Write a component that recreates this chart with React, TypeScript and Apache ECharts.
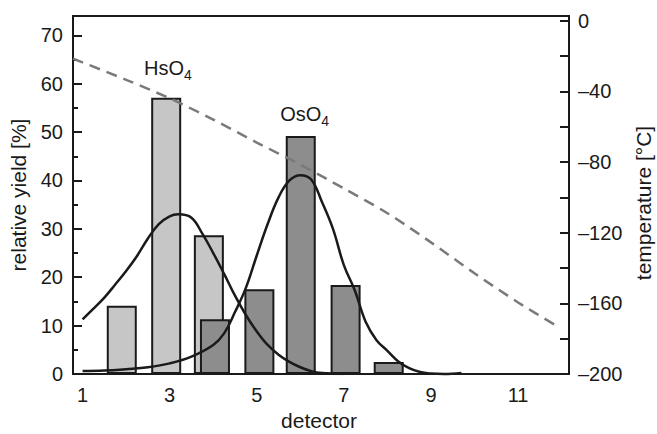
import React, { useEffect, useRef } from "react";
import * as echarts from "echarts";

// Bars (detector position, relative yield %)
const hsDetectors = [1.9, 2.92, 3.9];
const hsYields = [14.1, 57.1, 28.7];
const osDetectors = [4.04, 5.06, 6.01, 7.04, 8.03];
const osYields = [11.3, 17.5, 49.2, 18.4, 2.5];

// Fit curves
const hsCurveX = [1.0, 1.25, 1.5, 1.75, 2.0, 2.25, 2.5, 2.75, 3.0, 3.2, 3.5, 3.75, 4.0, 4.25, 4.5, 4.75, 5.0, 5.25, 5.5, 5.75, 6.0, 6.25, 6.5, 7.0];
const hsCurveY = [11.3, 13.5, 15.8, 18.5, 21.3, 24.4, 28.0, 31.0, 32.6, 33.0, 32.3, 29.0, 25.0, 20.7, 16.2, 12.2, 8.8, 6.0, 4.0, 2.5, 1.4, 0.6, 0.2, 0];
const osCurveX = [1.0, 1.5, 2.0, 2.5, 3.0, 3.5, 4.0, 4.25, 4.5, 4.75, 5.0, 5.25, 5.5, 5.75, 6.0, 6.25, 6.5, 6.75, 7.0, 7.25, 7.5, 7.75, 8.0, 8.25, 8.5, 8.75, 9.0, 9.3, 9.7];
const osCurveY = [0.6, 0.7, 1.0, 1.4, 2.2, 3.6, 6.0, 8.4, 12.8, 17.8, 24.5, 31.0, 36.5, 40.0, 41.1, 40.2, 35.5, 30.0, 22.5, 17.3, 10.8, 7.0, 4.8, 2.6, 1.2, 0.4, 0.1, 0, 0.2];

// Temperature profile (right axis)
const tempX = [0.78, 2, 3, 4, 5, 6, 7, 8, 9, 10, 11, 11.9];
const tempY = [-21.5, -33.5, -44, -56, -69, -81.5, -95, -109, -125.5, -143, -159.5, -173];

// Axis ticks / labels
const xLabels = [1, 3, 5, 7, 9, 11];
const yMajor = [0, 10, 20, 30, 40, 50, 60, 70];
const yMinor = [5, 15, 25, 35, 45, 55, 65];
const tTicks = [-200, -180, -160, -140, -120, -100, -80, -60, -40, -20, 0];
const tLabels = [-200, -160, -120, -80, -40, 0];

// Annotation anchors (data coords, left/baseline of text)
const hsLabelPos = [2.41, 62.1];
const osLabelPos = [5.54, 52.4];

const FONT = "'Liberation Sans', Arial, Helvetica, sans-serif";
const INK = "#1a1a1a";

export default function App() {
  const ref = useRef<HTMLDivElement>(null);
  useEffect(() => {
    if (!ref.current) return;
    const chart = echarts.init(ref.current, undefined, { renderer: "svg" });
    const option: any = {
      animation: false,
      backgroundColor: "#fff",
      textStyle: { fontFamily: FONT },
      grid: { left: 73, right: 88, top: 16, bottom: 60, show: true, borderColor: INK, borderWidth: 2, backgroundColor: "transparent" },
      xAxis: {
        type: "value",
        min: 0.78,
        max: 12.17,
        axisLine: { show: true, lineStyle: { color: INK, width: 2 } },
        axisTick: { show: false },
        splitLine: { show: false },
        axisLabel: { customValues: xLabels, fontSize: 20, color: INK, fontFamily: FONT, margin: 11 },
      },
      yAxis: [
        {
          type: "value",
          position: "left",
          min: 0,
          max: 74,
          axisLine: { show: true, lineStyle: { color: INK, width: 2 } },
          axisTick: { show: true, inside: true, length: 9, customValues: yMajor, lineStyle: { color: INK, width: 2 } },
          axisLabel: { customValues: yMajor, fontSize: 20, color: INK, fontFamily: FONT, margin: 10 },
          splitLine: { show: false },
        },
        {
          type: "value",
          position: "right",
          min: -200,
          max: 2.6,
          axisLine: { show: true, lineStyle: { color: INK, width: 2 } },
          axisTick: { show: true, inside: true, length: 9, customValues: tTicks, lineStyle: { color: INK, width: 2 } },
          axisLabel: {
            customValues: tLabels,
            fontSize: 20,
            color: INK,
            fontFamily: FONT,
            margin: 9,
            formatter: (v: number) => (v < 0 ? "\u2013" + Math.abs(v) : String(v)),
          },
          splitLine: { show: false },
        },
        {
          type: "value",
          position: "left",
          offset: 0,
          min: 0,
          max: 74,
          axisLine: { show: false },
          axisTick: { show: true, inside: true, length: 5, customValues: yMinor, lineStyle: { color: INK, width: 2 } },
          axisLabel: { show: false },
          splitLine: { show: false },
        },
      ],
      series: [
        {
          type: "bar",
          yAxisIndex: 0,
          barWidth: 30,
          barGap: "-100%",
          data: hsDetectors.map((d, i) => [d, hsYields[i]]),
          itemStyle: { color: "#c6c6c6", borderColor: INK, borderWidth: 2 },
          z: 2,
        },
        {
          type: "bar",
          yAxisIndex: 0,
          barWidth: 30,
          barGap: "-100%",
          data: osDetectors.map((d, i) => [d, osYields[i]]),
          itemStyle: { color: "#8d8d8d", borderColor: INK, borderWidth: 2 },
          z: 3,
        },
        {
          type: "line",
          yAxisIndex: 0,
          smooth: 0.4,
          showSymbol: false,
          data: hsCurveX.map((x, i) => [x, hsCurveY[i]]),
          lineStyle: { color: INK, width: 2.5 },
          z: 5,
        },
        {
          type: "line",
          yAxisIndex: 0,
          smooth: 0.4,
          showSymbol: false,
          clip: false,
          data: osCurveX.map((x, i) => [x, osCurveY[i]]),
          lineStyle: { color: INK, width: 2.5 },
          z: 5,
        },
        {
          type: "line",
          yAxisIndex: 1,
          smooth: 0.3,
          showSymbol: false,
          data: tempX.map((x, i) => [x, tempY[i]]),
          lineStyle: { color: "#7a7a7a", width: 2.5, type: [11, 7] },
          z: 6,
        },
      ],
    };
    chart.setOption(option);

    const hs = chart.convertToPixel({ xAxisIndex: 0, yAxisIndex: 0 }, hsLabelPos) as number[];
    const os = chart.convertToPixel({ xAxisIndex: 0, yAxisIndex: 0 }, osLabelPos) as number[];
    const mainStyle = { fill: INK, font: `20px ${FONT}`, textAlign: "left", textVerticalAlign: "bottom" };
    const subStyle = { fill: INK, font: `14px ${FONT}`, textAlign: "left", textVerticalAlign: "bottom" };
    chart.setOption({
      graphic: [
        { type: "text", x: hs[0], y: hs[1] + 4, style: { ...mainStyle, text: "HsO" } },
        { type: "text", x: hs[0] + 40, y: hs[1] + 8, style: { ...subStyle, text: "4" } },
        { type: "text", x: os[0], y: os[1] + 4, style: { ...mainStyle, text: "OsO" } },
        { type: "text", x: os[0] + 41, y: os[1] + 8, style: { ...subStyle, text: "4" } },
        {
          type: "text",
          x: 18,
          y: 195,
          rotation: Math.PI / 2,
          style: { text: "relative yield [%]", fill: INK, font: `21px ${FONT}`, textAlign: "center", textVerticalAlign: "middle" },
        },
        {
          type: "text",
          x: 643,
          y: 203,
          rotation: Math.PI / 2,
          style: { text: "temperature [°C]", fill: INK, font: `21px ${FONT}`, textAlign: "center", textVerticalAlign: "middle" },
        },
        {
          type: "text",
          x: 319,
          y: 420,
          style: { text: "detector", fill: INK, font: `21px ${FONT}`, textAlign: "center", textVerticalAlign: "middle" },
        },
      ],
    });
    return () => chart.dispose();
  }, []);
  return <div ref={ref} style={{ position: "fixed", left: 0, top: 0, width: 657, height: 434 }} />;
}
